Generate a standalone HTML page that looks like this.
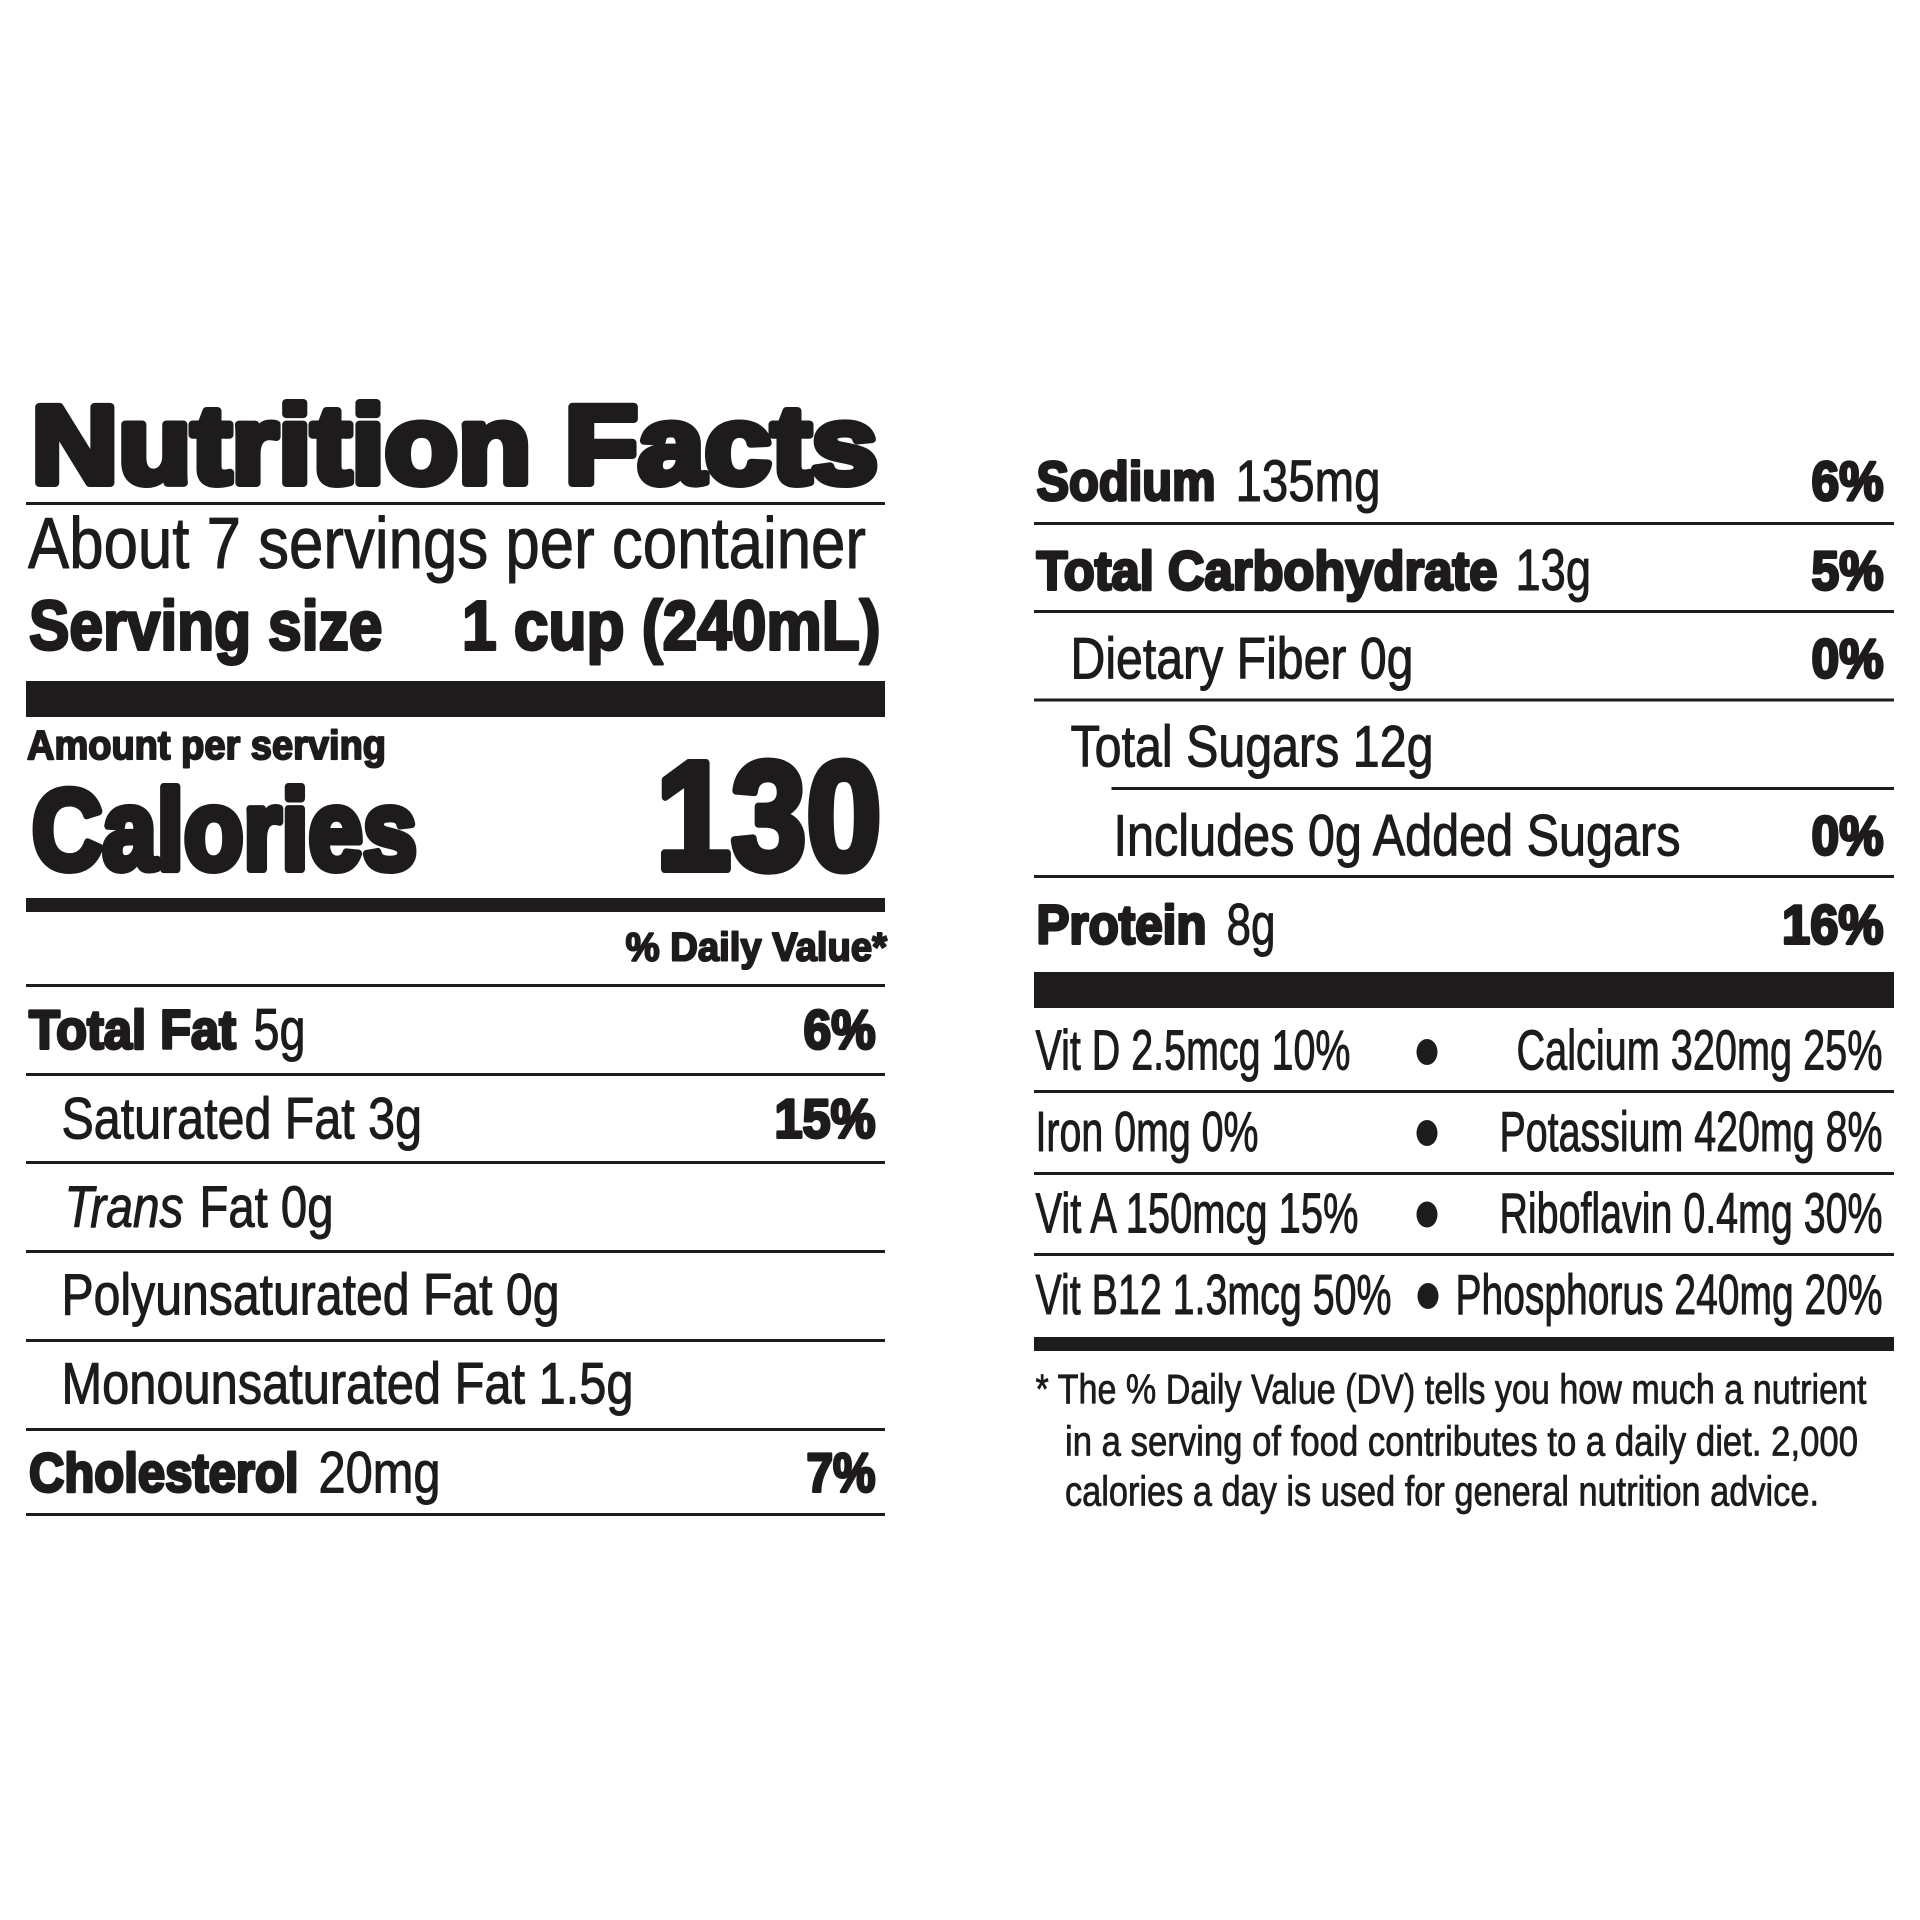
<!DOCTYPE html>
<html><head><meta charset="utf-8"><style>
html,body{margin:0;padding:0;background:#fff;}
svg{display:block;}
text{font-family:"Liberation Sans",Arial,sans-serif;fill:#1e1b1c;stroke:#1e1b1c;stroke-linejoin:round;}
.r{font-size:58px;stroke-width:1;}
.b{font-size:55px;font-weight:700;stroke-width:3;}
.v{font-size:57px;stroke-width:1;}
.f{font-size:42px;stroke-width:0.8;}
</style></head><body>
<svg width="1920" height="1920" viewBox="0 0 1920 1920" xmlns="http://www.w3.org/2000/svg">
<rect x="0" y="0" width="1920" height="1920" fill="#fff"/>
<g fill="#1e1b1c">
<!-- left panel rules -->
<rect x="26" y="502" width="859" height="3"/>
<rect x="26" y="681" width="859" height="36"/>
<rect x="26" y="898" width="859" height="14"/>
<rect x="26" y="984" width="859" height="3"/>
<rect x="26" y="1073" width="859" height="3"/>
<rect x="26" y="1161" width="859" height="3"/>
<rect x="26" y="1250" width="859" height="3"/>
<rect x="26" y="1339" width="859" height="3"/>
<rect x="26" y="1428" width="859" height="3"/>
<rect x="26" y="1513" width="859" height="3"/>
<!-- right panel rules -->
<rect x="1034" y="522" width="860" height="3"/>
<rect x="1034" y="610" width="860" height="3"/>
<rect x="1034" y="698.5" width="860" height="3"/>
<rect x="1111.5" y="787" width="782.5" height="3"/>
<rect x="1034" y="875" width="860" height="3"/>
<rect x="1034" y="972" width="860" height="36"/>
<rect x="1034" y="1090" width="860" height="3"/>
<rect x="1034" y="1172" width="860" height="3"/>
<rect x="1034" y="1253" width="860" height="3"/>
<rect x="1034" y="1337" width="860" height="14"/>
<!-- bullets -->
<ellipse cx="1427" cy="1052" rx="10.5" ry="13"/>
<ellipse cx="1427" cy="1133" rx="10.5" ry="13"/>
<ellipse cx="1427" cy="1214.5" rx="10.5" ry="13"/>
<ellipse cx="1428" cy="1296" rx="10.5" ry="13"/>
</g>

<!-- Left panel text -->
<text x="31.5" y="483" font-size="110" font-weight="700" stroke-width="8" textLength="846.5" lengthAdjust="spacingAndGlyphs">Nutrition Facts</text>
<text x="28" y="568" font-size="72.5" stroke-width="1" textLength="838" lengthAdjust="spacingAndGlyphs">About 7 servings per container</text>
<text x="29" y="649.5" font-size="70" font-weight="700" stroke-width="3" textLength="353.5" lengthAdjust="spacingAndGlyphs">Serving size</text>
<text x="462" y="649.5" font-size="70" font-weight="700" stroke-width="3" textLength="418.5" lengthAdjust="spacingAndGlyphs">1 cup (240mL)</text>
<text x="27" y="759" font-size="40.6" font-weight="700" stroke-width="2" textLength="359" lengthAdjust="spacingAndGlyphs">Amount per serving</text>
<text x="32" y="869" font-size="113" font-weight="700" stroke-width="8" textLength="385" lengthAdjust="spacingAndGlyphs">Calories</text>
<text x="656" y="869" font-size="154" font-weight="700" stroke-width="8" textLength="225.5" lengthAdjust="spacingAndGlyphs">130</text>
<text x="625.6" y="960.5" font-size="40" font-weight="700" stroke-width="2" textLength="261.4" lengthAdjust="spacingAndGlyphs">% Daily Value*</text>

<text class="b" x="29" y="1048.5" textLength="207" lengthAdjust="spacingAndGlyphs">Total Fat</text>
<text class="r" x="253.5" y="1049.5" textLength="52" lengthAdjust="spacingAndGlyphs">5g</text>
<text class="b" x="803.5" y="1048.5" textLength="72" lengthAdjust="spacingAndGlyphs">6%</text>

<text class="r" x="61.5" y="1138.5" textLength="360.5" lengthAdjust="spacingAndGlyphs">Saturated Fat 3g</text>
<text class="b" x="774.5" y="1137.5" textLength="101" lengthAdjust="spacingAndGlyphs">15%</text>

<text class="r" x="64.5" y="1227" font-style="italic" textLength="119" lengthAdjust="spacingAndGlyphs">Trans</text>
<text class="r" x="199.5" y="1227" textLength="134" lengthAdjust="spacingAndGlyphs">Fat 0g</text>

<text class="r" x="61.5" y="1314.5" textLength="498" lengthAdjust="spacingAndGlyphs">Polyunsaturated Fat 0g</text>
<text class="r" x="61.5" y="1403.5" textLength="572" lengthAdjust="spacingAndGlyphs">Monounsaturated Fat 1.5g</text>

<text class="b" x="29" y="1491.5" textLength="269.5" lengthAdjust="spacingAndGlyphs">Cholesterol</text>
<text class="r" x="318.5" y="1492.5" textLength="122" lengthAdjust="spacingAndGlyphs">20mg</text>
<text class="b" x="806.5" y="1491.5" textLength="69" lengthAdjust="spacingAndGlyphs">7%</text>

<!-- Right panel text -->
<text class="b" x="1036.5" y="500" textLength="179" lengthAdjust="spacingAndGlyphs">Sodium</text>
<text class="r" x="1235.5" y="501" textLength="145" lengthAdjust="spacingAndGlyphs">135mg</text>
<text class="b" x="1811.5" y="500" textLength="72" lengthAdjust="spacingAndGlyphs">6%</text>

<text class="b" x="1036.5" y="589.3" textLength="461" lengthAdjust="spacingAndGlyphs">Total Carbohydrate</text>
<text class="r" x="1515.5" y="590.2" textLength="75.5" lengthAdjust="spacingAndGlyphs">13g</text>
<text class="b" x="1811.5" y="589.3" textLength="72" lengthAdjust="spacingAndGlyphs">5%</text>

<text class="r" x="1070.5" y="678.5" textLength="343" lengthAdjust="spacingAndGlyphs">Dietary Fiber 0g</text>
<text class="b" x="1811.5" y="677.5" textLength="72" lengthAdjust="spacingAndGlyphs">0%</text>

<text class="r" x="1070.5" y="766.5" textLength="363" lengthAdjust="spacingAndGlyphs">Total Sugars 12g</text>

<text class="r" x="1113.5" y="855.5" textLength="567" lengthAdjust="spacingAndGlyphs">Includes 0g Added Sugars</text>
<text class="b" x="1811.5" y="854.5" textLength="72" lengthAdjust="spacingAndGlyphs">0%</text>

<text class="b" x="1036.5" y="943.5" textLength="170" lengthAdjust="spacingAndGlyphs">Protein</text>
<text class="r" x="1226.5" y="944.5" textLength="49" lengthAdjust="spacingAndGlyphs">8g</text>
<text class="b" x="1782" y="943.5" textLength="101.5" lengthAdjust="spacingAndGlyphs">16%</text>

<text class="v" x="1035.5" y="1069.5" textLength="315" lengthAdjust="spacingAndGlyphs">Vit D 2.5mcg 10%</text>
<text class="v" x="1516.5" y="1069.5" textLength="366" lengthAdjust="spacingAndGlyphs">Calcium 320mg 25%</text>
<text class="v" x="1035.5" y="1151" textLength="223" lengthAdjust="spacingAndGlyphs">Iron 0mg 0%</text>
<text class="v" x="1499.5" y="1151" textLength="383" lengthAdjust="spacingAndGlyphs">Potassium 420mg 8%</text>
<text class="v" x="1035.5" y="1232.5" textLength="323" lengthAdjust="spacingAndGlyphs">Vit A 150mcg 15%</text>
<text class="v" x="1499.5" y="1232.5" textLength="383" lengthAdjust="spacingAndGlyphs">Riboflavin 0.4mg 30%</text>
<text class="v" x="1035.5" y="1314" textLength="356" lengthAdjust="spacingAndGlyphs">Vit B12 1.3mcg 50%</text>
<text class="v" x="1455.5" y="1314" textLength="427" lengthAdjust="spacingAndGlyphs">Phosphorus 240mg 20%</text>

<text class="f" x="1035.5" y="1403.5" textLength="831" lengthAdjust="spacingAndGlyphs">* The % Daily Value (DV) tells you how much a nutrient</text>
<text class="f" x="1065" y="1455.5" textLength="793" lengthAdjust="spacingAndGlyphs">in a serving of food contributes to a daily diet. 2,000</text>
<text class="f" x="1065" y="1505.5" textLength="754" lengthAdjust="spacingAndGlyphs">calories a day is used for general nutrition advice.</text>
</svg>
</body></html>
